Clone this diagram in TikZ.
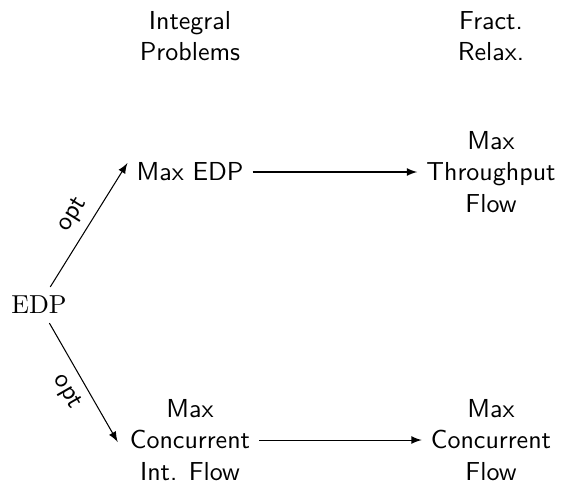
\documentclass[tikz,border=0pt]{standalone}
\usetikzlibrary{calc}
\begin{document}
\begin{tikzpicture}[x=0.3846pt, y=-0.3846pt,
  lbl/.style={font=\sffamily, align=center},
  conn/.style={-latex, line width=0.4pt},
  optlbl/.style={font=\sffamily, sloped, midway}]
  \useasboundingbox (0,0) rectangle (561,486);

  % column headings
  \node[lbl] (hint)  at (190,36)  {Integral\\Problems};
  \node[lbl] (hfrac) at (491,36)  {Fract.\\Relax.};

  % problems
  \node (edp) at (39,305) {\textrm{EDP}};
  \node[lbl] (maxedp) at (190,172) {Max EDP};
  \node[lbl] (mtf)    at (491,172) {Max\\Throughput\\Flow};
  \node[lbl] (mcif)   at (190,440) {Max\\Concurrent\\Int. Flow};
  \node[lbl] (mcf)    at (491,440) {Max\\Concurrent\\Flow};

  % relations
  \draw[conn] (edp) -- node[optlbl, above] {opt} ($(maxedp.west)+(0,-9)$);
  \draw[conn] (edp) -- node[optlbl, below] {opt} ($(mcif.west)+(-3,2)$);
  \draw[conn] (maxedp) -- (mtf);
  \draw[conn] (mcif) -- (mcf);
\end{tikzpicture}
\end{document}
